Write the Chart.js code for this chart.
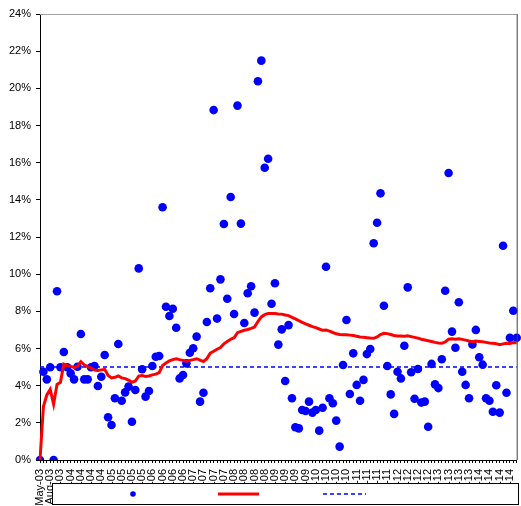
<!DOCTYPE html>
<html>
<head>
<meta charset="utf-8">
<script src="https://cdn.jsdelivr.net/npm/chart.js@4/dist/chart.umd.min.js"></script>
<style>
  body { margin: 0; background: #fff; }
  canvas { display: block; }
</style>
</head>
<body>
<canvas id="grafico" width="521" height="506"></canvas>
<script>
// monthly categories, May-03 .. Jan-15
const monthNames = ['Jan','Feb','Mar','Apr','May','Jun','Jul','Aug','Sep','Oct','Nov','Dec'];
const months = [];
for (let i = 0; i < 141; i++) {
  const m = (4 + i) % 12;
  const y = 3 + Math.floor((4 + i) / 12);
  months.push(monthNames[m] + '-' + String(y).padStart(2, '0'));
}

// monthly rate (%) - blue dots
const monthly = [
  0, 4.75, 4.34, 4.99, 0, 9.08, 4.99, 5.81, 4.99, 4.66,
  4.34, 5.02, 6.78, 4.34, 4.34, 4.99, 5.06, 3.98, 4.48, 5.65,
  2.30, 1.88, 3.32, 6.24, 3.19, 3.64, 3.95, 2.06, 3.77, 10.31,
  4.88, 3.41, 3.71, 5.06, 5.56, 5.60, 13.60, 8.25, 7.75, 8.14,
  7.12, 4.39, 4.57, 5.20, 5.77, 6.01, 6.64, 3.14, 3.62, 7.43,
  9.24, 18.83, 7.61, 9.72, 12.70, 8.68, 14.15, 7.86, 19.07, 12.72,
  7.37, 8.97, 9.35, 7.93, 20.38, 21.49, 15.73, 16.21, 8.41, 9.51,
  6.21, 7.03, 4.25, 7.26, 3.32, 1.76, 1.70, 2.69, 2.64, 3.14,
  2.55, 2.69, 1.58, 2.81, 10.40, 3.32, 3.05, 2.12, 0.72, 5.11,
  7.53, 3.55, 5.74, 4.04, 3.19, 4.31, 5.70, 5.97, 11.66, 12.77,
  14.35, 8.30, 5.06, 3.53, 2.48, 4.75, 4.39, 6.15, 9.29, 4.72,
  3.30, 4.90, 3.09, 3.14, 1.79, 5.17, 4.07, 3.87, 5.42, 9.11,
  15.44, 6.91, 6.04, 8.49, 4.75, 4.04, 3.32, 6.22, 7.00, 5.53,
  5.13, 3.32, 3.19, 2.60, 4.02, 2.55, 11.53, 3.62, 6.58, 8.03,
  6.58
];

// running average (%) - red line
const average = [
  0, 2.87, 3.50, 3.80, 3.01, 4.07, 4.18, 5.16, 5.08, 5.04,
  4.98, 5.05, 5.29, 5.12, 5.02, 4.95, 4.84, 4.82, 4.85, 4.88,
  4.55, 4.42, 4.45, 4.52, 4.42, 4.38, 4.30, 4.18, 4.25, 4.52,
  4.55, 4.50, 4.52, 4.58, 4.62, 4.70, 5.08, 5.22, 5.33, 5.40,
  5.45, 5.40, 5.36, 5.32, 5.36, 5.40, 5.45, 5.38, 5.30, 5.45,
  5.75, 5.85, 5.96, 6.05, 6.25, 6.38, 6.50, 6.58, 6.85, 6.92,
  6.98, 7.02, 7.08, 7.15, 7.45, 7.70, 7.82, 7.89, 7.89, 7.88,
  7.86, 7.85, 7.80, 7.77, 7.68, 7.59, 7.50, 7.41, 7.32, 7.25,
  7.18, 7.12, 7.05, 6.98, 7.00, 6.93, 6.86, 6.79, 6.75, 6.74,
  6.74, 6.72, 6.70, 6.66, 6.62, 6.60, 6.58, 6.56, 6.55, 6.62,
  6.75, 6.82, 6.80, 6.75, 6.70, 6.67, 6.67, 6.66, 6.68, 6.64,
  6.60, 6.56, 6.50, 6.46, 6.42, 6.38, 6.33, 6.30, 6.28, 6.35,
  6.50, 6.52, 6.50, 6.52, 6.49, 6.45, 6.40, 6.37, 6.40, 6.38,
  6.36, 6.33, 6.30, 6.28, 6.26, 6.20, 6.25, 6.28, 6.27, 6.32,
  6.31
];

// target level (%) - blue dashed line
const target = months.map(() => 5);

const yTicks = [0, 2, 4, 6, 8, 10, 12, 14, 16, 18, 20, 22, 24];

const fonte = { family: "'Liberation Sans', Arial, sans-serif", size: 11 };

// frame + legend box drawn like the original (legend sits over the month labels)
const moldura = {
  id: 'moldura',
  afterDraw(chart) {
    const ctx = chart.ctx;
    const a = chart.chartArea;
    ctx.save();
    ctx.strokeStyle = '#a0a0a0';
    ctx.lineWidth = 1;
    ctx.beginPath();
    ctx.moveTo(a.left, a.top + 0.5);
    ctx.lineTo(a.right, a.top + 0.5);
    ctx.stroke();
    ctx.strokeStyle = '#404040';
    ctx.beginPath();
    ctx.moveTo(a.right + 0.5, a.top);
    ctx.lineTo(a.right + 0.5, a.bottom);
    ctx.stroke();

    // legend
    ctx.fillStyle = '#fff';
    ctx.fillRect(52, 483, 466, 21);
    ctx.strokeStyle = '#000';
    ctx.strokeRect(52.5, 483.5, 466, 21);
    ctx.fillStyle = '#0000ff';
    ctx.beginPath();
    ctx.arc(133, 494, 2.8, 0, Math.PI * 2);
    ctx.fill();
    ctx.strokeStyle = '#ff0000';
    ctx.lineWidth = 3;
    ctx.beginPath();
    ctx.moveTo(218, 494);
    ctx.lineTo(259, 494);
    ctx.stroke();
    ctx.strokeStyle = '#0000ff';
    ctx.lineWidth = 1.5;
    ctx.setLineDash([4, 3]);
    ctx.beginPath();
    ctx.moveTo(323, 494);
    ctx.lineTo(366, 494);
    ctx.stroke();
    ctx.restore();
  }
};

const grafico = new Chart(document.getElementById('grafico'), {
  type: 'line',
  data: {
    labels: months,
    datasets: [
      {
        label: 'Monthly',
        data: monthly,
        showLine: false,
        pointRadius: 4.3,
        pointBackgroundColor: '#0000ff',
        pointBorderWidth: 0,
        borderColor: '#0000ff',
        order: 2
      },
      {
        label: 'Average',
        data: average,
        borderColor: '#ff0000',
        borderWidth: 3,
        pointRadius: 0,
        tension: 0,
        order: 0
      },
      {
        label: 'Target',
        data: target,
        borderColor: '#0000ff',
        borderWidth: 1.5,
        borderDash: [4, 3],
        pointRadius: 0,
        order: 1
      }
    ]
  },
  options: {
    responsive: false,
    animation: false,
    layout: { padding: { top: 14, right: 2, left: 0, bottom: 0 } },
    plugins: {
      legend: { display: false },
      tooltip: { enabled: false }
    },
    scales: {
      x: {
        offset: false,
        afterFit(scale) {
          scale.height = 46;
          scale.paddingLeft = 0;
          scale.paddingRight = 0;
        },
        grid: { drawOnChartArea: false, drawTicks: true, tickLength: 3, color: '#000' },
        border: { color: '#000', width: 1 },
        ticks: {
          autoSkip: false,
          maxRotation: 90,
          minRotation: 90,
          padding: 6,
          color: '#000',
          font: fonte,
          callback: function (val, i) {
            return i % 3 === 0 ? this.getLabelForValue(val) : '';
          }
        }
      },
      y: {
        min: 0,
        max: 24,
        afterFit(scale) { scale.width = 40; },
        afterBuildTicks(scale) { scale.ticks = yTicks.map(v => ({ value: v })); },
        grid: { drawOnChartArea: false, drawTicks: true, tickLength: 4, color: '#000' },
        border: { color: '#000', width: 1 },
        ticks: {
          padding: 5,
          color: '#000',
          font: fonte,
          callback: v => v + '%'
        }
      }
    }
  },
  plugins: [moldura]
});
</script>
</body>
</html>
